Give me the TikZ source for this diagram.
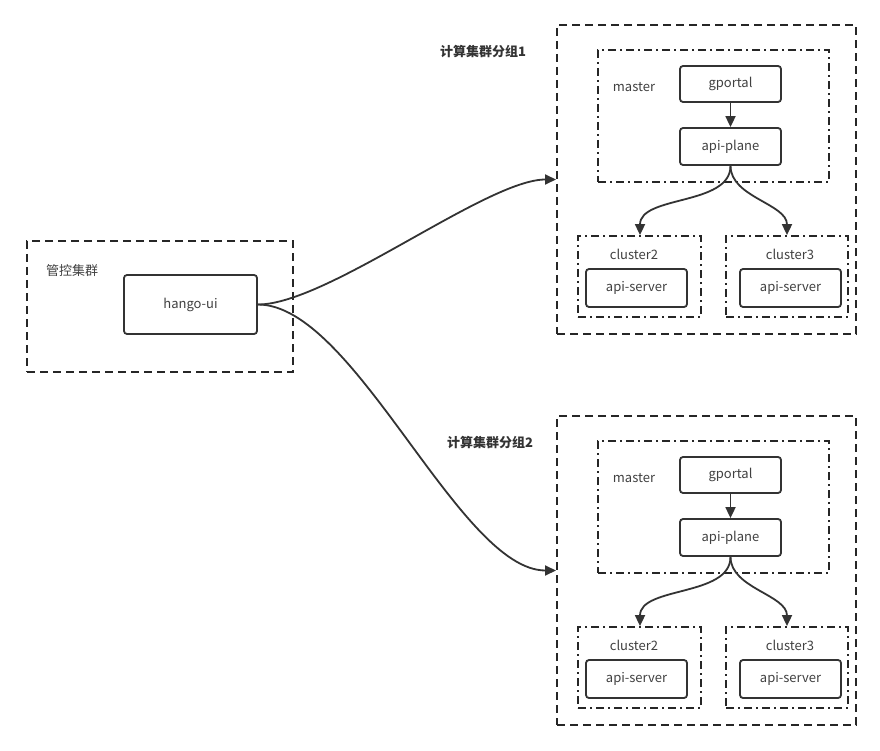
\documentclass[tikz,border=0pt]{standalone}
\usepackage{fontspec}
\setmainfont{Noto Sans CJK SC}
\usetikzlibrary{arrows.meta}

\begin{document}
\begin{tikzpicture}[
  x=1pt, y=-1pt,
  font=\fontsize{13}{15}\selectfont,
  line/.style={draw=black!80, line width=1.8pt},
  arr/.style={line, -{Triangle[width=10pt,length=11pt]}},
  svc/.style={line, rounded corners=3pt, minimum height=36pt, minimum width=101pt,
              inner sep=0pt, text=black!75},
  grp/.style={draw=black!85, line width=2pt, dash pattern=on 8pt off 5pt,
              minimum width=299pt, minimum height=309pt, inner sep=0pt},
  sub/.style={draw=black!85, line width=1.8pt, dash pattern=on 8pt off 4pt on 2pt off 4pt,
              inner sep=0pt},
  lbl/.style={text=black!75},
  title/.style={font=\fontsize{13}{15}\selectfont\bfseries, text=black!80},
]
  \useasboundingbox (0,0) rectangle (880,751);

  % control cluster
  \node[grp, minimum width=266pt, minimum height=131pt] (ctl) at (160,306.5) {};
  \node[lbl] (ctltxt) at (72,271) {管控集群};
  \node[svc, minimum width=133pt, minimum height=59pt] (ui) at (190.5,304.5) {hango-ui};

  % compute cluster groups
  \foreach \g/\dx/\dy in {1/0/0, 2/7/391} {
    \node[title] (t\g) at (483+\dx,52+\dy) {计算集群分组\g};
    \node[grp] (grp\g) at (706.5,179.5+\dy) {};

    % master
    \node[sub, minimum width=231pt, minimum height=132pt] (m\g) at (713.5,116+\dy) {};
    \node[lbl] (mtxt\g) at (634,87+\dy) {master};
    \node[svc] (gp\g) at (730.5,84+\dy) {gportal};
    \node[svc, minimum height=37pt] (ap\g) at (730.5,146.5+\dy) {api-plane};
    \draw[arr] (gp\g) -- (ap\g);

    % clusters
    \node[sub, minimum width=123pt, minimum height=81pt] (ca\g) at (639.5,276.5+\dy) {};
    \node[lbl] (catxt\g) at (634,254+\dy) {cluster2};
    \node[svc, minimum height=38pt] (sa\g) at (636.5,288+\dy) {api-server};
    \node[sub, minimum width=122pt, minimum height=81pt] (cb\g) at (787,276.5+\dy) {};
    \node[lbl] (cbtxt\g) at (790,254+\dy) {cluster3};
    \node[svc, minimum height=38pt] (sb\g) at (790.5,288+\dy) {api-server};

    \draw[arr] (ap\g.south) to[out=-90, in=90, looseness=0.9] ([xshift=0.5pt]ca\g.north);
    \draw[arr] (ap\g.south) to[out=-90, in=90, looseness=0.9] (cb\g.north);
  }

  % links from hango-ui
  \draw[arr] (ui.east) to[out=0, in=180, looseness=0.55] (grp1.west);
  \draw[arr] (ui.east) to[out=0, in=180, looseness=0.62] (grp2.west);
\end{tikzpicture}
\end{document}
